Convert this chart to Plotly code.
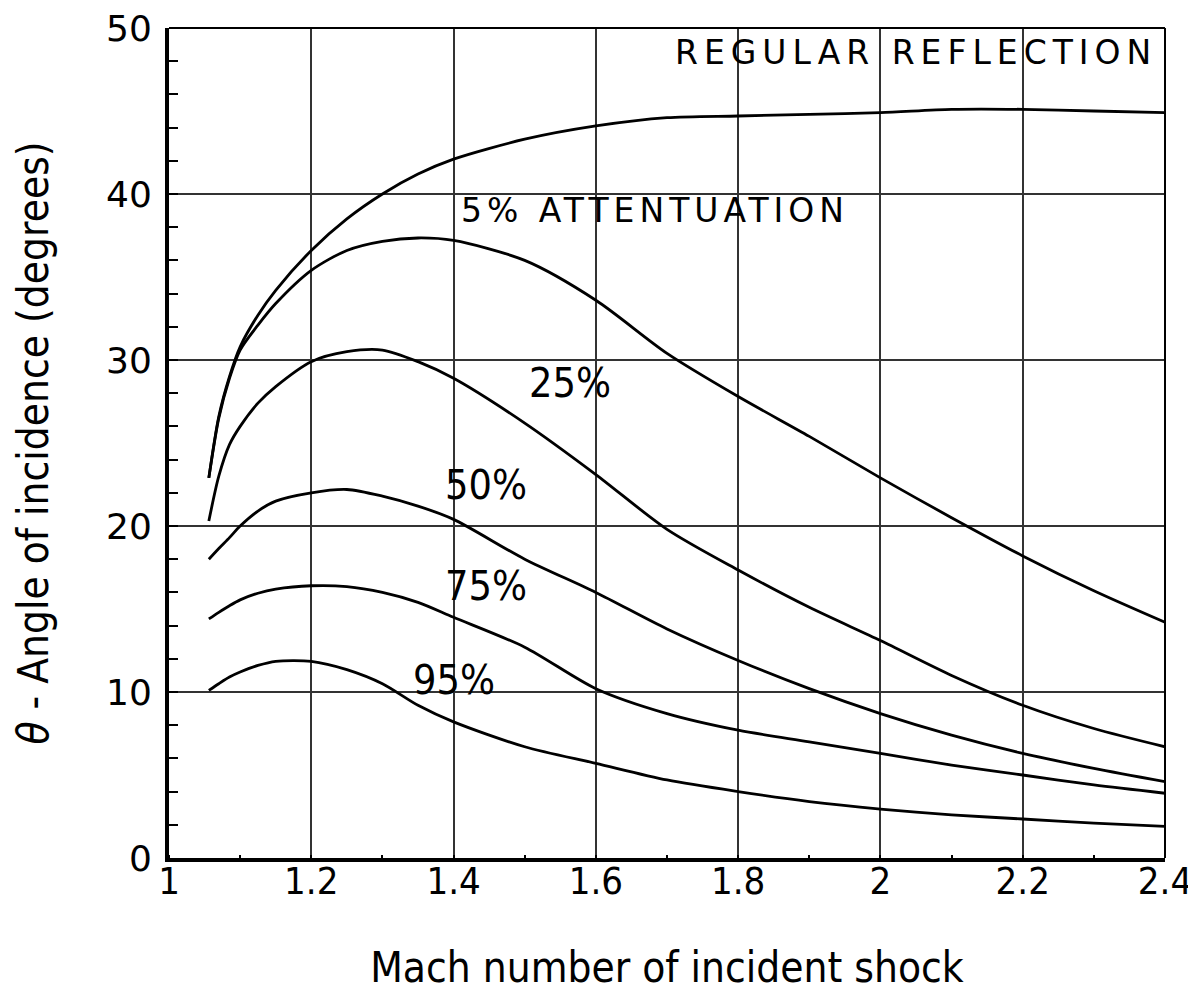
import plotly.graph_objects as go

# Mach number of incident shock (shared abscissa)
mach = [1.056, 1.07, 1.085, 1.1, 1.125, 1.15, 1.2, 1.25, 1.3, 1.35, 1.4,
        1.5, 1.6, 1.7, 1.8, 1.9, 2.0, 2.1, 2.2, 2.3, 2.4]

# Angle of incidence (degrees) for each curve
regular_reflection = [22.9, 26.6, 29.0, 30.8, 32.7, 34.2, 36.6, 38.5, 40.0, 41.2, 42.1,
                      43.3, 44.1, 44.6, 44.7, 44.8, 44.9, 45.1, 45.1, 45.0, 44.9]
att_5 = [22.9, 26.5, 28.9, 30.6, 32.1, 33.4, 35.4, 36.6, 37.15, 37.35, 37.2,
         36.0, 33.6, 30.4, 27.8, 25.4, 22.9, 20.5, 18.2, 16.1, 14.2]
att_25 = [20.3, 23.0, 24.9, 26.0, 27.4, 28.4, 29.9, 30.5, 30.6, 29.9, 28.9,
          26.2, 23.1, 19.8, 17.35, 15.1, 13.1, 11.0, 9.2, 7.8, 6.7]
att_50 = [18.0, 18.65, 19.3, 20.0, 20.9, 21.5, 22.0, 22.2, 21.8, 21.2, 20.4,
          18.0, 16.0, 13.8, 11.9, 10.2, 8.7, 7.4, 6.3, 5.4, 4.6]
att_75 = [14.4, 14.8, 15.2, 15.55, 15.95, 16.2, 16.4, 16.35, 16.0, 15.4, 14.5,
          12.7, 10.2, 8.7, 7.7, 7.0, 6.3, 5.6, 5.0, 4.4, 3.9]
att_95 = [10.1, 10.5, 10.9, 11.2, 11.6, 11.85, 11.85, 11.35, 10.5, 9.2, 8.2,
          6.7, 5.7, 4.7, 4.0, 3.4, 2.95, 2.6, 2.35, 2.1, 1.9]

series = [regular_reflection, att_5, att_25, att_50, att_75, att_95]

# Curve labels: text, x, y
label_texts = ["REGULAR REFLECTION", "5% ATTENTUATION", "25%", "50%", "75%", "95%"]
label_x = [2.05, 1.683, 1.564, 1.445, 1.445, 1.401]
label_y = [48.55, 39.0, 28.6, 22.5, 16.4, 10.7]

x_ticks = [1, 1.2, 1.4, 1.6, 1.8, 2, 2.2, 2.4]
x_ticktext = ["1", "1.2", "1.4", "1.6", "1.8", "2", "2.2", "2.4"]
y_ticks = [0, 10, 20, 30, 40, 50]

NARROW = "Liberation Sans Narrow, DejaVu Sans Condensed, Arial Narrow, Liberation Sans, Arial"
WIDE = "DejaVu Sans, Verdana, sans-serif"

fig = go.Figure()
for s in series:
    fig.add_trace(go.Scatter(x=mach, y=s, mode="lines",
                             line=dict(color="black", width=2.8, shape="spline", smoothing=0.8),
                             showlegend=False, hoverinfo="skip"))

spacing = [6, 5]
for i, (t, x, y) in enumerate(zip(label_texts, label_x, label_y)):
    if i < 2:
        txt = '<span style="letter-spacing:%dpx">' % spacing[i] + t + '</span>'
        fnt = dict(family=WIDE, size=33, color="black")
    else:
        txt = t
        fnt = dict(family=NARROW, size=41, color="black")
    fig.add_annotation(x=x, y=y, xref="x", yref="y", text=txt, showarrow=False,
                       font=fnt, xanchor="center", yanchor="middle")

# top and right frame lines (thinner than bottom/left)
fig.add_shape(type="line", xref="paper", yref="paper", x0=0, x1=1, y0=1, y1=1,
              line=dict(color="black", width=2))
fig.add_shape(type="line", xref="paper", yref="paper", x0=1, x1=1, y0=0, y1=1,
              line=dict(color="black", width=2))

fig.update_layout(
    width=1188, height=986,
    margin=dict(l=161, r=31, t=20, b=136),
    paper_bgcolor="white", plot_bgcolor="white",
    xaxis=dict(range=[1, 2.4], tickvals=x_ticks, ticktext=x_ticktext, automargin=False,
               showgrid=True, gridcolor="#333333", gridwidth=1.5,
               showline=True, linecolor="black", linewidth=4,
               ticks="", zeroline=False, ticklabelstandoff=-14, ticklabeloverflow="allow",
               minor=dict(dtick=0.1, tick0=1, ticks="inside", ticklen=3, tickwidth=1.5,
                          tickcolor="black", showgrid=False),
               tickfont=dict(family=NARROW, size=38, color="black"),
               title=dict(text="Mach number of incident shock",
                          font=dict(family=NARROW, size=42, color="black"), standoff=52)),
    yaxis=dict(range=[0, 50], tickvals=y_ticks, automargin=False,
               showgrid=True, gridcolor="#333333", gridwidth=1.5,
               showline=True, linecolor="black", linewidth=4,
               ticks="inside", ticklen=9, tickwidth=2, tickcolor="black", zeroline=False,
               ticklabelstandoff=6, ticklabeloverflow="allow",
               minor=dict(dtick=2, tick0=0, ticks="inside", ticklen=9, tickwidth=2,
                          tickcolor="black", showgrid=False),
               tickfont=dict(family=WIDE, size=36, color="black"),
               title=dict(text="<i>θ</i> - Angle of incidence (degrees)",
                          font=dict(family=NARROW, size=42, color="black"), standoff=45)),
)

fig.write_html("out.html")
